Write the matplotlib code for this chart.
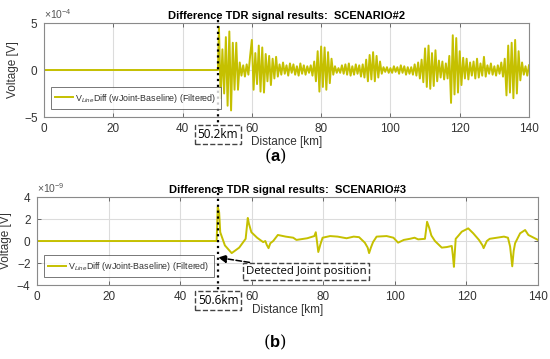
import numpy as np
import matplotlib
matplotlib.use("Agg")
import matplotlib.pyplot as plt
from matplotlib.ticker import FixedLocator

# ---------------- data ----------------
# Scenario #2 (panel a): values in units of 1e-4 V, sampled every 0.5 km from 50.5 km
a_joint_km = 50.2
a_start_km = 50.5
a_step_km = 0.5
a_volt_e4 = [
    4.6, -3.0, 2.2, -2.5, 3.5, -3.8, 4.1, -4.3, 2.9, -2.1,
    2.9, -2.1, 0.8, -0.6, 0.5, -0.7, 0.6, -0.5, 1.5, 3.2,
    -2.1, 1.8, -1.5, 2.6, -2.3, 2.4, -2.4, 1.7, -1.2, 1.5,
    -1.6, 1.2, -0.9, 1.4, -0.7, 0.6, -0.5, 0.8, -0.4, 0.5,
    -0.6, 0.7, -0.3, 0.6, -0.5, 0.4, -0.6, 0.7, -0.4, 0.5,
    -0.5, 0.4, -0.3, 0.5, -0.6, 0.9, -1.2, 2.0, -2.3, 2.5,
    -1.8, 2.4, -2.1, 1.9, -1.4, 1.2, -0.5, 0.4, -0.3, 0.2,
    -0.3, 0.5, -0.4, 0.6, -0.5, 0.7, -0.6, 0.4, -0.5, 0.6,
    -0.4, 0.5, -0.7, 0.6, -0.8, 1.1, -1.2, 1.6, -1.0, 1.9,
    -1.2, 1.5, -0.8, 0.9, -0.4, 0.3, -0.2, 0.3, -0.3, 0.2,
    -0.3, 0.4, -0.2, 0.3, -0.4, 0.5, -0.3, 0.4, -0.5, 0.3,
    -0.4, 0.3, -0.5, 0.6, -0.6, 0.8, -0.9, 1.1, -1.3, 2.3,
    -1.8, 2.6, -2.0, 1.8, -1.7, 2.1, -1.2, 1.0, -0.8, 0.9,
    -1.0, 0.7, -0.9, 1.5, -3.5, 3.7, -2.6, 3.4, -2.4, 2.0,
    -1.6, 1.3, -0.9, 1.2, -1.0, 0.8, -0.6, 0.9, -0.9, 1.2,
    -0.8, 0.7, -0.6, 1.4, -0.7, 0.5, -0.4, 0.7, -0.5, 0.4,
    -0.6, 0.5, -0.4, 0.8, -0.7, 1.2, -2.7, 2.6, -2.4, 2.9,
    -3.0, 3.2, -2.5, 2.0, -1.1, 0.8, -0.5, 0.4, -0.6, 0.5,
]

# Scenario #3 (panel b): (km, value in 1e-9 V)
b_joint_km = 50.6
b_km = [0, 50.2, 50.5, 50.9, 51.2, 52.5, 54.4, 56.5, 58.3, 58.9, 59.2, 59.9,
        61.5, 63.2, 63.8, 64.2, 64.7, 65.2, 66.0, 67.3, 69.5, 71.6, 72.5, 73.5,
        75.5, 77.5, 77.9, 78.3, 78.6, 79.2, 79.8, 81.9, 84.0, 86.5, 88.5, 90.0,
        91.6, 92.4, 92.8, 93.3, 93.9, 94.9, 97.7, 99.6, 100.9, 102.5, 104.2,
        105.5, 106.5, 108.4, 108.8, 109.0, 109.6, 110.2, 111.2, 113.1, 114.5,
        115.9, 116.2, 116.5, 116.8, 117.0, 117.8, 118.7, 120.5, 121.9, 123.5,
        124.5, 124.8, 125.7, 126.5, 128.5, 130.5, 131.6, 132.2, 132.8, 133.2,
        133.6, 135.0, 136.4, 137.3, 138.5, 140.0]
b_volt_e9 = [0, 0, 3.1, 2.6, 0.8, -0.4, -1.1, -0.6, 0.2, 2.1, 1.6, 0.8,
             0.3, -0.1, 0.0, -0.35, -0.65, -0.2, 0.0, 0.55, 0.4, 0.3, 0.1, 0.15,
             0.25, 0.45, 0.8, -0.2, -1.0, -0.3, 0.3, 0.45, 0.4, 0.25, 0.4, 0.35,
             -0.15, -0.6, -1.1, -0.6, -0.1, 0.4, 0.45, 0.3, -0.15, 0.1, 0.2,
             0.3, 0.15, 0.2, 1.2, 1.75, 1.2, 0.5, 0.0, -0.6, -0.55,
             -0.45, -1.3, -2.35, -0.8, 0.2, 0.5, 0.85, 1.15, 0.7, 0.1,
             -0.4, -0.65, 0.0, 0.2, 0.3, 0.4, 0.3, -0.5, -2.3, -0.9,
             -0.2, 0.7, 1.0, 0.55, 0.35, 0.1]

x_ticks = [0, 20, 40, 60, 80, 100, 120, 140]
a_yticks = [-5e-4, 0, 5e-4]
b_yticks = [-4e-9, -2e-9, 0, 2e-9, 4e-9]
title_a = "Difference TDR signal results:  SCENARIO#2"
title_b = "Difference TDR signal results:  SCENARIO#3"
legend_label = r"V$_{Line}$Diff (wJoint-Baseline) (Filtered)"

# ---------------- build series ----------------
a_km = [0.0, a_joint_km] + list(a_start_km + a_step_km * np.arange(len(a_volt_e4)))
a_v = np.array([0.0, 0.0] + a_volt_e4) * 1e-4
b_v = np.array(b_volt_e9) * 1e-9

line_color = "#c5c000"
spine_color = "#8a8a8a"
plt.rcParams['font.family'] = ['Liberation Sans', 'DejaVu Sans']
plt.rcParams['mathtext.fontset'] = 'custom'
plt.rcParams['mathtext.rm'] = 'Liberation Sans'
plt.rcParams['mathtext.it'] = 'Liberation Sans:italic'
plt.rcParams['mathtext.bf'] = 'Liberation Sans:bold'

fig = plt.figure(figsize=(5.5, 3.59), dpi=100)

axa = fig.add_axes([0.080, 0.6741, 0.8818, 0.2618])
axb = fig.add_axes([0.0673, 0.2061, 0.9109, 0.2451])


def style(ax, yticks, ylim):
    ax.set_xlim(0, 140)
    ax.set_ylim(*ylim)
    ax.xaxis.set_major_locator(FixedLocator(x_ticks))
    ax.yaxis.set_major_locator(FixedLocator(yticks))
    ax.ticklabel_format(axis='y', style='sci', scilimits=(0, 0), useMathText=True)
    ax.grid(True, color="#dcdcdc", linewidth=0.8)
    ax.set_axisbelow(True)
    for s in ax.spines.values():
        s.set_color(spine_color)
        s.set_linewidth(0.8)
    ax.tick_params(direction='in', length=3, width=0.6, color="#555555",
                   labelsize=8.5, labelcolor="#333333", top=True, right=True, pad=4)
    ax.yaxis.get_offset_text().set_fontsize(7.5)
    ax.yaxis.get_offset_text().set_color("#555555")
    ax.set_ylabel("Voltage [V]", fontsize=8.5, color="#333333", labelpad=3)
    ax.set_xlabel("Distance [km]", fontsize=8.5, color="#333333", labelpad=1)


style(axa, a_yticks, (-5e-4, 5e-4))
style(axb, b_yticks, (-4e-9, 4e-9))

axa.plot(a_km, a_v, color=line_color, lw=1.4, label=legend_label)
axb.plot(b_km, b_v, color=line_color, lw=1.4, label=legend_label)

for ax, t, anc in ((axa, title_a, (0.014, 0.085)), (axb, title_b, (0.014, 0.09))):
    ax.set_title(t, fontsize=8, fontweight='bold', pad=3)
    leg = ax.legend(loc='lower left', fontsize=6.4, frameon=True, fancybox=False,
                    edgecolor="#555555", borderpad=0.5, handlelength=2.0,
                    handletextpad=0.2, borderaxespad=0.0, bbox_to_anchor=anc)
    leg.get_frame().set_linewidth(0.7)
    for txt in leg.get_texts():
        txt.set_color("#333333")

# joint markers: dotted lines extending below the axes with km boxes
box = dict(boxstyle='square,pad=0.25', fc='white', ec='#444444', ls='--', lw=1.0)
for ax, jk, top_extra, line_end, box_y in ((axa, a_joint_km, 0.03, -0.11, -0.19),
                                           (axb, b_joint_km, 0.11, -0.09, -0.18)):
    ax.plot([jk, jk], [1 + top_extra, line_end], transform=ax.get_xaxis_transform(),
            color='black', ls=':', lw=1.6, clip_on=False, zorder=5)
    ax.text(jk, box_y, f"{jk}km", transform=ax.get_xaxis_transform(),
            ha='center', va='center', fontsize=8.5, family='Open Sans', bbox=box, zorder=6)

# Detected joint annotation on panel b
axb.annotate("Detected Joint position", xy=(b_joint_km, -1.5e-9), xytext=(58.4, -2.75e-9),
             fontsize=8.2, family='Open Sans', ha='left', va='center', bbox=box,
             arrowprops=dict(arrowstyle='-|>', ls='--', lw=1.1, color='black',
                             mutation_scale=12, shrinkA=0, shrinkB=0))

fig.text(0.5, 0.565, r"($\mathbf{a}$)", ha='center', va='center', fontsize=12,
         family='DejaVu Serif')
fig.text(0.5, 0.047, r"($\mathbf{b}$)", ha='center', va='center', fontsize=12,
         family='DejaVu Serif')

fig.savefig("out.png", dpi=100)
